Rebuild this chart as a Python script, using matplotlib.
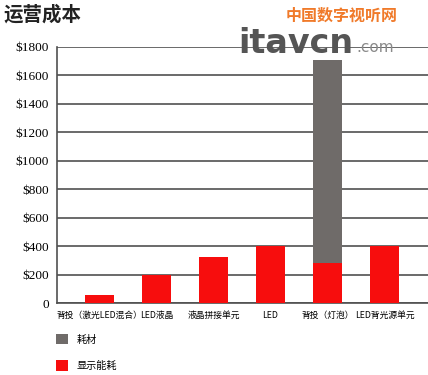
import matplotlib
matplotlib.use("Agg")
import matplotlib.pyplot as plt
from matplotlib.patches import Patch

categories = ["背投（激光LED混合）", "LED液晶", "液晶拼接单元", "LED", "背投（灯泡）", "LED背光源单元"]
display_energy = [55, 200, 320, 400, 280, 400]
consumables = [0, 0, 0, 0, 1430, 0]
yticks = [0, 200, 400, 600, 800, 1000, 1200, 1400, 1600, 1800]
ytick_labels = ["0", "$200", "$400", "$600", "$800", "$1000", "$1200", "$1400", "$1600", "$1800"]

red = "#f70d0d"
gray = "#6f6b69"
cjk = ["Noto Sans CJK SC", "DejaVu Sans"]

fig = plt.figure(figsize=(4.28, 3.75), dpi=100)
ax = fig.add_axes([57 / 428, 1 - 303 / 375, 1 - 57 / 428, (303 - 47) / 375])

x = list(range(len(categories)))
ax.bar(x, display_energy, width=0.5, color=red, zorder=3)
ax.bar(x, consumables, width=0.5, bottom=display_energy, color=gray, zorder=3)

ax.set_xlim(-0.74, 5.76)
ax.set_ylim(0, 1800)
ax.set_yticks(yticks)
ax.set_yticklabels(ytick_labels, family=["Liberation Serif"], fontsize=9.5)
ax.set_xticks(x)
ax.set_xticklabels(categories, family=cjk, fontsize=6.3)
ax.tick_params(axis="x", length=0, pad=6)
ax.tick_params(axis="y", length=0, pad=6)
ax.grid(axis="y", color="#505050", linewidth=1.2, zorder=1)
for s in ["top", "right"]:
    ax.spines[s].set_visible(False)
for s in ["left", "bottom"]:
    ax.spines[s].set_color("#505050")
    ax.spines[s].set_linewidth(1.2)

handles = [Patch(facecolor=gray, label="耗材"), Patch(facecolor=red, label="显示能耗")]
fig.legend(handles=handles, loc="upper left", bbox_to_anchor=(52 / 428, 1 - 330 / 375),
           frameon=False, prop={"family": cjk, "size": 7.3}, handlelength=1.2,
           handleheight=1.2, labelspacing=1.55, handletextpad=0.8, borderaxespad=0)

fig.text(3 / 428, 1 - 15 / 375, "运营成本", family=cjk, fontsize=14, fontweight="bold",
         va="center", ha="left", color="#222222")

# watermark logo
fig.text(342 / 428, 1 - 16 / 375, "中国数字视听网", family=cjk, fontsize=11.5, fontweight="bold",
         color="#f07a2a", ha="center", va="center", style="italic")
fig.text(238 / 428, 1 - 53 / 375, "itavcn", family=["DejaVu Sans"], fontsize=24,
         fontweight="bold", color="#555555", ha="left", va="baseline", zorder=10)
fig.text(356 / 428, 1 - 52 / 375, ".com", family=["DejaVu Sans"], fontsize=11,
         color="#8a8a8a", ha="left", va="baseline", zorder=10)

fig.savefig("out.png", dpi=100)
